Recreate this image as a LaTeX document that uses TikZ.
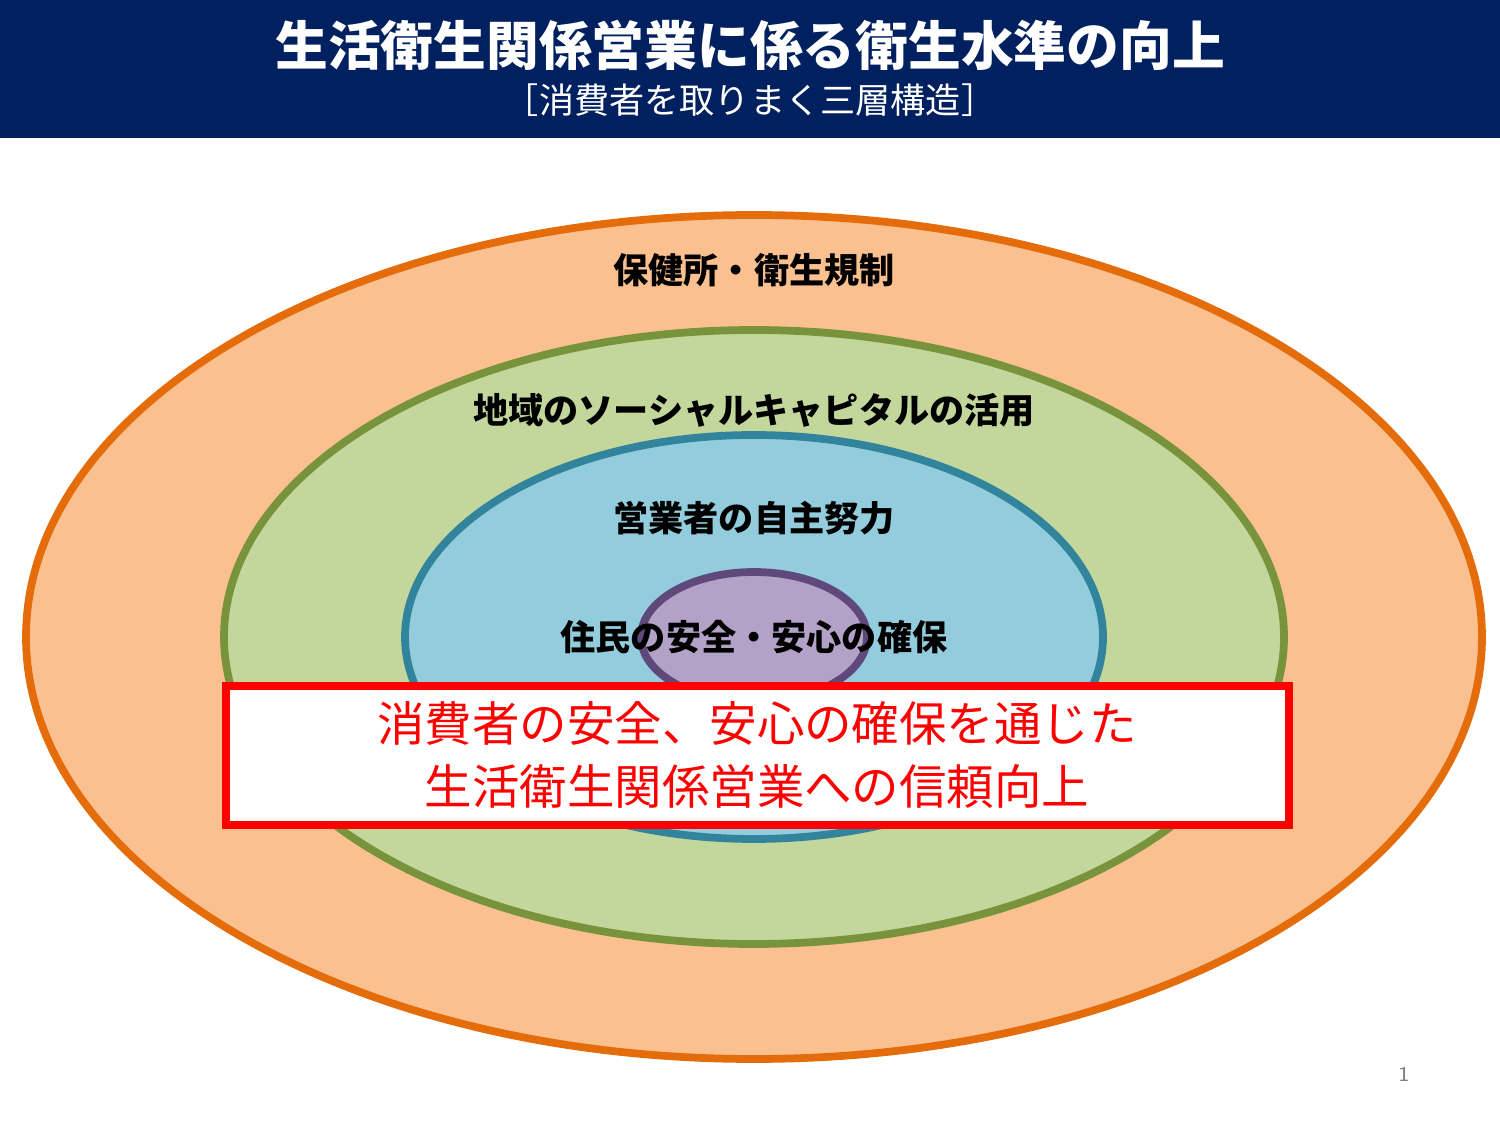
\documentclass[tikz,border=0pt]{standalone}
\usepackage{fontspec}
\newfontfamily\cjk{Noto Sans CJK JP}
\definecolor{navy}{HTML}{002060}
\definecolor{orfill}{HTML}{FAC090}
\definecolor{ordraw}{HTML}{E46C0A}
\definecolor{grfill}{HTML}{C3D69B}
\definecolor{grdraw}{HTML}{77933C}
\definecolor{blfill}{HTML}{93CDDD}
\definecolor{bldraw}{HTML}{31849B}
\definecolor{pufill}{HTML}{B3A2C7}
\definecolor{pudraw}{HTML}{5F497A}
\tikzset{
  layer/.style={line width=2.2pt},
  lbl/.style={font=\cjk\bfseries\fontsize{10}{12}\selectfont, text=black},
}
\begin{document}
\begin{tikzpicture}[x=0.01cm,y=-0.01cm]
\useasboundingbox (0,0) rectangle (1500,1125);
% header
\fill[navy] (0,0) rectangle (1500,138);
\node[text=white, font=\cjk\bfseries\fontsize{15}{18}\selectfont] (title) at (750,45) {生活衛生関係営業に係る衛生水準の向上};
\node[text=white, font=\cjk\fontsize{10}{12}\selectfont] (subtitle) at (750,100) {［消費者を取りまく三層構造］};

% layers
\draw[layer, fill=orfill, draw=ordraw] (754,637) ellipse [x radius=728, y radius=422];
\draw[layer, fill=grfill, draw=grdraw] (754,637) ellipse [x radius=530, y radius=307];
\draw[layer, fill=blfill, draw=bldraw] (754,637) ellipse [x radius=349, y radius=202];
\draw[layer, fill=pufill, draw=pudraw] (754,637) ellipse [x radius=113, y radius=65];

\node[lbl] (outer) at (754,270) {保健所・衛生規制};
\node[lbl] (social) at (754,410) {地域のソーシャルキャピタルの活用};
\node[lbl] (effort) at (754,518) {営業者の自主努力};
\node[lbl] (core) at (754,637) {住民の安全・安心の確保};

% message box
\draw[red, fill=white, line width=2.4pt] (226,686) rectangle (1289,825);
\node[text=red, font=\cjk\fontsize{13.5}{17}\selectfont, align=center] (msg) at (757,755)
  {消費者の安全、安心の確保を通じた\\[1pt]生活衛生関係営業への信頼向上};

\node[text=gray, font=\sffamily\fontsize{6}{7}\selectfont] (page) at (1404,1074) {1};
\end{tikzpicture}
\end{document}
